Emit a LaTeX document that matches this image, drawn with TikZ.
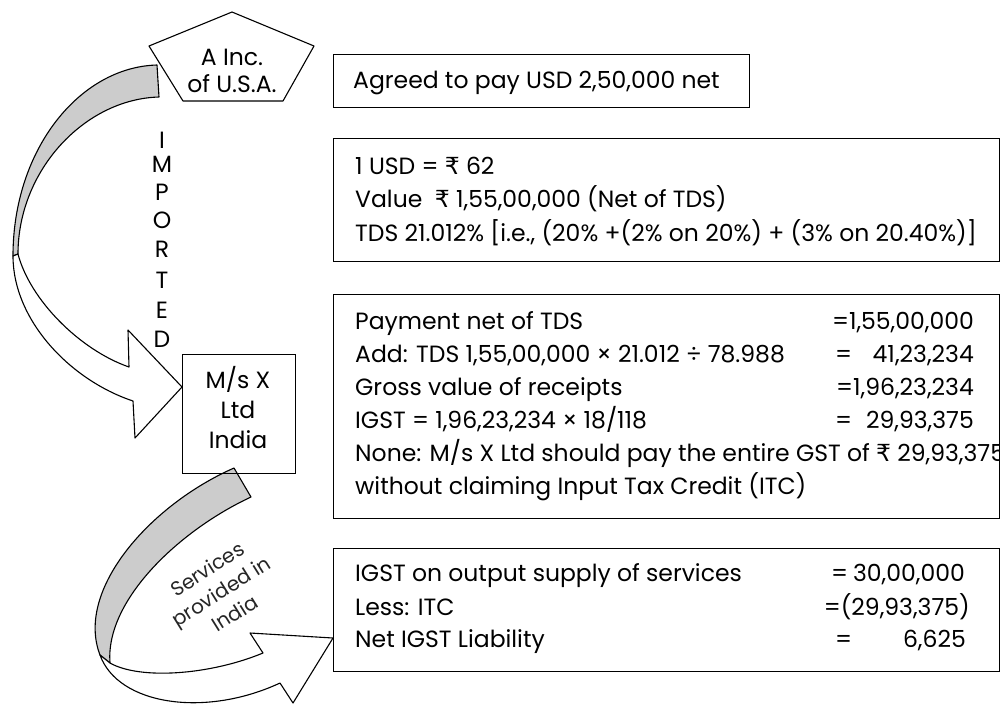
\documentclass[tikz,border=0pt]{standalone}
\usepackage{fontspec}
\setmainfont{Poppins}
\newfontfamily\rsfont{DejaVu Sans}
\newcommand{\Rs}{{\rsfont\symbol{"20B9}}}
\begin{document}
\begin{tikzpicture}[x=1pt,y=-1pt,
  boxstyle/.style={draw=black, line width=1.4pt, inner sep=0pt, anchor=north west},
  txt/.style={font=\fontsize{23.5}{23.5}\selectfont, inner sep=0pt, text height=16.4pt, text depth=0pt, anchor=west},
  txtr/.style={txt, anchor=east},
  letter/.style={font=\fontsize{23.5}{23.5}\selectfont, inner sep=0pt, text height=16.4pt, text depth=0pt},
  band/.style={draw=black, line width=1.1pt, line join=round}
]
\useasboundingbox (0,0) rectangle (1000,705);

% ---------- curved arrow: A Inc. -> M/s X ----------
\path[band, fill=black!20] (157,65) .. controls (80,67) and (13,149) .. (13,256)
   -- (18,254) .. controls (18,170) and (85,99) .. (159,97) -- cycle;
\path[band, fill=white] (13,256) .. controls (13,320) and (70,380) .. (133,401)
   -- (135,438) -- (182,387) -- (128,330) -- (129,367)
   .. controls (80,350) and (30,300) .. (18,254) -- cycle;

% ---------- curved arrow: M/s X -> IGST box ----------
\path[band, fill=black!20] (234,468) .. controls (150,505) and (75,590) .. (100,655)
   -- (110,663) .. controls (105,600) and (180,530) .. (251,497) -- cycle;
\path[band, fill=white] (100,655) .. controls (118,705) and (205,718) .. (280,683)
   -- (293,703) -- (333,638) -- (250,633) -- (263,653)
   .. controls (210,675) and (140,680) .. (110,663) -- cycle;

% ---------- pentagon ----------
\draw[band, fill=white] (232,12) -- (314,46) -- (283,101) -- (183,101) -- (149,46) -- cycle;
\node[letter] (ainc1) at (232,57) {A Inc.};
\node[letter] (ainc2) at (232,84) {of U.S.A.};

% ---------- IMPORTED ----------
\foreach \ch/\yy [count=\i] in {I/140,M/164,P/192,O/220,R/249,T/280,E/310,D/339}
  \node[letter] (imp\i) at (162,\yy) {\ch};

% ---------- M/s X box ----------
\node[boxstyle, line width=1.1pt, minimum width=113pt, minimum height=119pt] (msx) at (182,354) {};
\node[letter] (msx1) at (238,380) {M/s X};
\node[letter] (msx2) at (238,410) {Ltd};
\node[letter] (msx3) at (238,440) {India};

% ---------- Services provided in India ----------
\node[rotate=32, align=center, inner sep=0pt, text=black!85,
      font=\fontsize{20}{26}\selectfont] (serv) at (221,591) {Services\\provided in\\India};

% ---------- boxes ----------
\node[boxstyle, minimum width=416pt, minimum height=53pt] (b1) at (333,54) {};
\node[boxstyle, minimum width=666pt, minimum height=123pt] (b2) at (333,138) {};
\node[boxstyle, minimum width=666pt, minimum height=224pt] (b3) at (333,294) {};
\node[boxstyle, minimum width=666pt, minimum height=123pt] (b4) at (333,548) {};

% box 1
\node[txt] (t11) at (353,80) {Agreed to pay USD 2,50,000 net};
% box 2
\node[txt] (t21) at (355,166) {1 USD = \Rs{} 62};
\node[txt] (t22) at (355,199) {Value~ \Rs{} 1,55,00,000 (Net of TDS)};
\node[txt] (t23) at (355,233) {TDS 21.012\% [i.e., (20\% +(2\% on 20\%) + (3\% on 20.40\%)]};
% box 3
\node[txt] (t31) at (355,321) {Payment net of TDS};
\node[txtr] (v31) at (974,321) {=1,55,00,000};
\node[txt] (t32) at (355,354) {Add: TDS 1,55,00,000 × 21.012 ÷ 78.988};
\node[txt] (e32) at (835,354) {=};
\node[txtr] (v32) at (974,354) {41,23,234};
\node[txt] (t33) at (355,387) {Gross value of receipts};
\node[txtr] (v33) at (974,387) {=1,96,23,234};
\node[txt] (t34) at (355,420) {IGST = 1,96,23,234 × 18/118};
\node[txt] (e34) at (835,420) {=};
\node[txtr] (v34) at (974,420) {29,93,375};
\node[txt] (t35) at (355,453) {None: M/s X Ltd should pay the entire GST of \Rs{} 29,93,375};
\node[txt] (t36) at (355,486) {without claiming Input Tax Credit (ITC)};
% box 4
\node[txt] (t41) at (355,573) {IGST on output supply of services};
\node[txt] (e41) at (831,573) {=};
\node[txtr] (v41) at (965,573) {30,00,000};
\node[txt] (t42) at (355,607) {Less: ITC};
\node[txtr] (v42) at (970,607) {=(29,93,375)};
\node[txt] (t43) at (355,639) {Net IGST Liability};
\node[txt] (e43) at (835,639) {=};
\node[txtr] (v43) at (966,639) {6,625};
\end{tikzpicture}
\end{document}
